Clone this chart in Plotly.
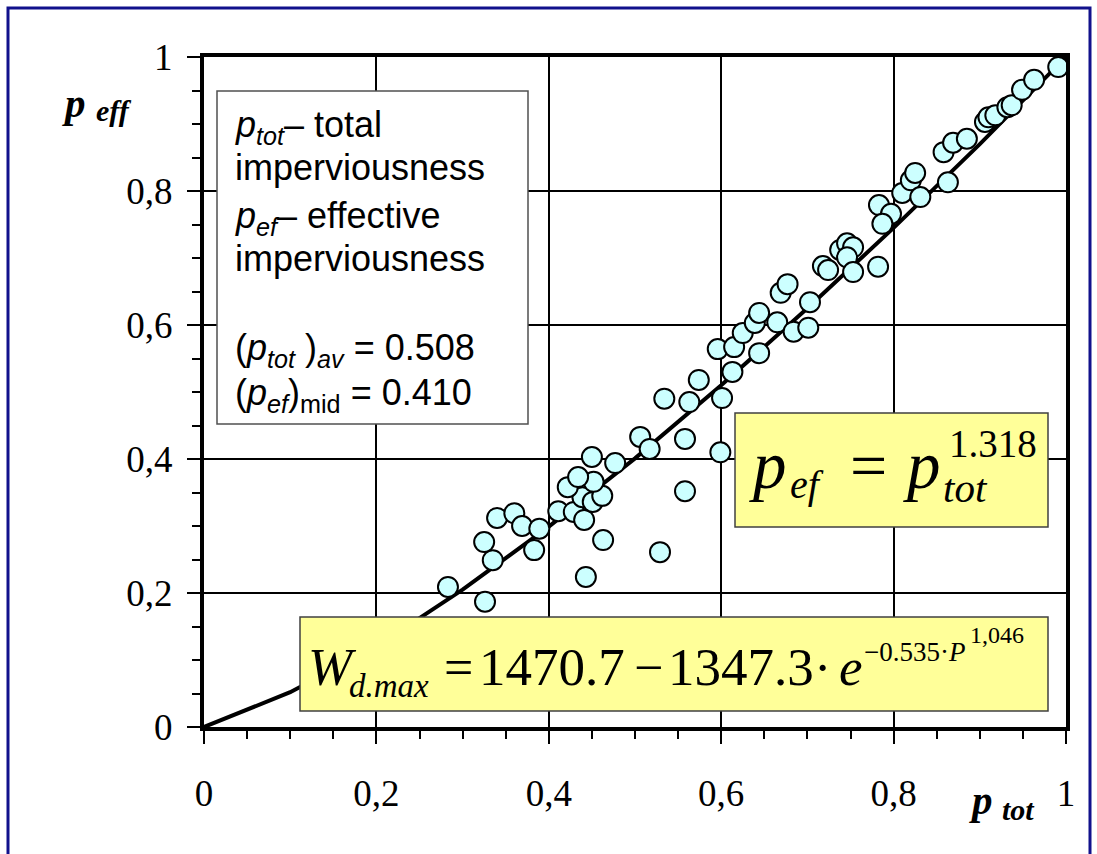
import plotly.graph_objects as go

# ---------------- data ----------------
p_tot = [0.283, 0.326, 0.325, 0.335, 0.340, 0.360, 0.369, 0.389, 0.383, 0.411,
         0.429, 0.441, 0.439, 0.451, 0.462, 0.452, 0.422, 0.434, 0.450, 0.477,
         0.463, 0.443, 0.529, 0.558, 0.506, 0.517, 0.558, 0.599, 0.534, 0.563,
         0.601, 0.574, 0.596, 0.615, 0.613, 0.644, 0.625, 0.639, 0.644, 0.665,
         0.684, 0.701, 0.703, 0.669, 0.677, 0.718, 0.724, 0.738, 0.746, 0.753,
         0.746, 0.753, 0.782, 0.783, 0.797, 0.787, 0.810, 0.820, 0.825, 0.831,
         0.863, 0.858, 0.869, 0.885, 0.906, 0.910, 0.918, 0.932, 0.937, 0.949,
         0.963, 0.991]
p_eff = [0.209, 0.187, 0.276, 0.249, 0.312, 0.319, 0.300, 0.296, 0.264, 0.322,
         0.321, 0.309, 0.343, 0.336, 0.345, 0.366, 0.358, 0.373, 0.403, 0.394,
         0.279, 0.224, 0.261, 0.352, 0.433, 0.415, 0.430, 0.410, 0.490, 0.485,
         0.491, 0.518, 0.564, 0.567, 0.530, 0.558, 0.588, 0.603, 0.618, 0.604,
         0.590, 0.596, 0.634, 0.648, 0.661, 0.688, 0.682, 0.712, 0.722, 0.716,
         0.701, 0.679, 0.687, 0.779, 0.766, 0.751, 0.797, 0.816, 0.827, 0.791,
         0.813, 0.858, 0.872, 0.878, 0.903, 0.910, 0.913, 0.925, 0.928, 0.951,
         0.966, 0.985]

# fitted curve p_ef = p_tot^1.318
fit_x = [0.0, 0.1, 0.2, 0.3, 0.4, 0.5, 0.6, 0.7, 0.8, 0.9, 1.0]
fit_y = [0.0, 0.052, 0.120, 0.205, 0.299, 0.401, 0.510, 0.625, 0.745, 0.870, 1.0]

tick_vals = [0, 0.2, 0.4, 0.6, 0.8, 1]
tick_text = ["0", "0,2", "0,4", "0,6", "0,8", "1"]
minor_vals = [0.05, 0.1, 0.15, 0.25, 0.3, 0.35, 0.45, 0.5, 0.55,
              0.65, 0.7, 0.75, 0.85, 0.9, 0.95]

# ---------------- layout helpers (pixel -> paper) ----------------
W, H = 1097, 854
L, R, T, B = 204, 1066, 57, 727


def px(x):
    return (x - L) / (R - L)


def py(y):
    return (B - y) / (B - T)


SERIF = "Liberation Serif, Times New Roman, serif"
SANS = "Liberation Sans, Arial, sans-serif"


def txt(s, x, yb, size, family, anchor="left", shift=0.0):
    yc = yb - 0.345 * size + shift
    return dict(text=s, x=px(x), y=py(yc), xref="paper", yref="paper",
                xanchor=anchor, yanchor="middle", showarrow=False,
                borderpad=0, font=dict(size=size, family=family, color="black"))


fig = go.Figure()
fig.add_trace(go.Scatter(x=fit_x, y=fit_y, mode="lines",
                         line=dict(color="black", width=4),
                         hoverinfo="skip", showlegend=False))
fig.add_trace(go.Scatter(x=p_tot, y=p_eff, mode="markers",
                         marker=dict(size=20, color="#ccffff",
                                     line=dict(color="black", width=2)),
                         showlegend=False, cliponaxis=False))

axis_common = dict(
    range=[0, 1], tickmode="array", tickvals=tick_vals, ticktext=tick_text,
    showgrid=True, gridcolor="black", gridwidth=2,
    showline=True, linecolor="black", linewidth=4, mirror=True,
    ticks="outside", ticklen=13, tickwidth=2, tickcolor="black",
    tickfont=dict(family=SERIF, size=37, color="black"),
    minor=dict(tickmode="array", tickvals=minor_vals, ticks="outside",
               ticklen=8, tickwidth=2, tickcolor="black", showgrid=False),
    zeroline=False, fixedrange=True,
)
fig.update_xaxes(**axis_common, ticklabelstandoff=18)
fig.update_yaxes(**axis_common, ticklabelstandoff=7)

shapes = [
    # outer blue frame
    dict(type="rect", xref="paper", yref="paper", x0=px(8), x1=px(1090),
         y0=py(900), y1=py(8), line=dict(color="#11118c", width=3),
         fillcolor="rgba(0,0,0,0)", layer="above"),
    # description box
    dict(type="rect", xref="paper", yref="paper", x0=px(217), x1=px(528),
         y0=py(424), y1=py(91), line=dict(color="#505050", width=1.5),
         fillcolor="white", layer="above"),
    # yellow box 1
    dict(type="rect", xref="paper", yref="paper", x0=px(735), x1=px(1048),
         y0=py(527), y1=py(413), line=dict(color="#404040", width=1.5),
         fillcolor="#ffff99", layer="above"),
    # yellow box 2
    dict(type="rect", xref="paper", yref="paper", x0=px(300), x1=px(1048),
         y0=py(711), y1=py(617), line=dict(color="#404040", width=1.5),
         fillcolor="#ffff99", layer="above"),
]

ann = []
# axis titles
ann.append(txt("<b><i>p</i></b>", 61, 117, 41, SERIF))
ann.append(txt("<b><i>eff</i></b>", 95, 121, 30, SERIF))
ann.append(txt("<b><i>p</i></b>", 968, 814, 41, SERIF))
ann.append(txt("<b><i>tot</i></b>", 1001, 820, 30, SERIF))

# description box lines
FS = 36
ann.append(txt("<i>p<sub>tot</sub></i>– total", 234, 135, FS, SANS, shift=4))
ann.append(txt("imperviousness", 234, 180, FS, SANS))
ann.append(txt("<i>p<sub>ef</sub></i>– effective", 234, 226, FS, SANS, shift=4))
ann.append(txt("imperviousness", 234, 271, FS, SANS))
ann.append(txt("(<i>p<sub>tot</sub></i> )<sub><i>av</i></sub> = 0.508", 234, 358, FS, SANS, shift=4))
ann.append(txt("(<i>p<sub>ef</sub></i>)<sub>mid</sub> = 0.410", 234, 403, FS, SANS, shift=4))

# equation 1: p_ef = p_tot^1.318
ann.append(txt("<i>p</i>", 748, 488, 67, SERIF))
ann.append(txt("<i>ef</i>", 789, 498, 40, SERIF))
ann.append(txt("=", 868, 488, 66, SERIF, anchor="center"))
ann.append(txt("<i>p</i>", 902, 488, 67, SERIF))
ann.append(txt("<i>tot</i>", 942, 502, 41, SERIF))
ann.append(txt("1.318", 948, 457, 39, SERIF))

# equation 2
ann.append(txt("<i>W</i>", 307, 685, 53, SERIF))
ann.append(txt("<i>d.max</i>", 348, 697, 33, SERIF))
ann.append(txt("=", 458, 685, 52, SERIF, anchor="center"))
ann.append(txt("1470.7", 552, 685, 53, SERIF, anchor="center"))
ann.append(txt("−", 648, 685, 52, SERIF, anchor="center"))
ann.append(txt("1347.3", 741, 685, 53, SERIF, anchor="center"))
ann.append(txt("·", 822, 685, 52, SERIF, anchor="center"))
ann.append(txt("<i>e</i>", 851, 685, 53, SERIF, anchor="center"))
ann.append(txt("−0.535·<i>P</i>", 863, 661, 27, SERIF))
ann.append(txt("1,046", 969, 643, 24, SERIF))

fig.update_layout(
    width=W, height=H, autosize=False,
    margin=dict(l=L, r=W - R, t=T, b=H - B, pad=0),
    paper_bgcolor="white", plot_bgcolor="white",
    shapes=shapes, annotations=ann, showlegend=False,
)

fig.write_html("out.html", config={"displayModeBar": False})
